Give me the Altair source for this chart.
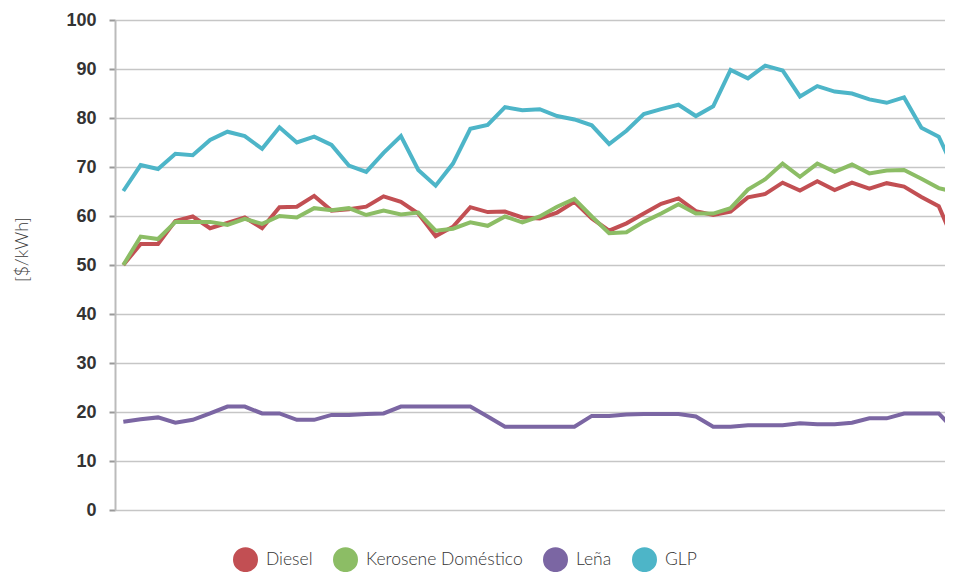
import altair as alt
import pandas as pd

series = ["Diesel", "Kerosene Doméstico", "Leña", "GLP"]
colors = ["#C24F53", "#8CBD65", "#7B66A3", "#4DB5C8"]

diesel = [50, 54.3, 54.3, 59, 59.9, 57.5, 58.6, 59.7, 57.5, 61.8,
          61.9, 64.1, 61.1, 61.4, 61.9, 64.0, 62.9, 60.5, 55.9, 57.8,
          61.8, 60.8, 60.9, 59.7, 59.5, 60.7, 62.9, 59.5, 57.0, 58.5,
          60.5, 62.5, 63.6, 61.0, 60.2, 60.9, 63.8, 64.5, 66.8, 65.2,
          67.1, 65.3, 66.8, 65.6, 66.7, 66.0, 63.9, 62.0, 53.8]
kerosene = [50, 55.8, 55.3, 58.8, 58.8, 58.8, 58.2, 59.4, 58.4, 60.0,
            59.7, 61.6, 61.2, 61.6, 60.2, 61.1, 60.3, 60.7, 57.0, 57.4,
            58.7, 58.0, 59.9, 58.7, 59.9, 61.9, 63.5, 59.9, 56.5, 56.7,
            58.8, 60.5, 62.4, 60.5, 60.5, 61.6, 65.4, 67.5, 70.7, 68.0,
            70.7, 69.0, 70.5, 68.7, 69.3, 69.4, 67.6, 65.7, 64.8]
lena = [18.0, 18.5, 18.9, 17.8, 18.4, 19.7, 21.1, 21.1, 19.7, 19.7,
        18.4, 18.4, 19.4, 19.4, 19.6, 19.7, 21.1, 21.1, 21.1, 21.1,
        21.1, 19.1, 17.0, 17.0, 17.0, 17.0, 17.0, 19.2, 19.2, 19.5,
        19.6, 19.6, 19.6, 19.1, 17.0, 17.0, 17.3, 17.3, 17.3, 17.7,
        17.5, 17.5, 17.8, 18.7, 18.7, 19.7, 19.7, 19.7, 16.0]
glp = [65.1, 70.4, 69.6, 72.7, 72.4, 75.5, 77.2, 76.3, 73.7, 78.1,
       75.0, 76.2, 74.5, 70.3, 69.0, 72.9, 76.3, 69.4, 66.2, 70.7,
       77.8, 78.6, 82.2, 81.6, 81.8, 80.4, 79.7, 78.5, 74.7, 77.4,
       80.8, 81.8, 82.7, 80.4, 82.4, 89.8, 88.1, 90.7, 89.7, 84.4,
       86.5, 85.4, 85.0, 83.8, 83.1, 84.2, 78.0, 76.2, 68.6]

rows = []
for name, vals in zip(series, [diesel, kerosene, lena, glp]):
    for i, v in enumerate(vals):
        rows.append({"periodo": i, "serie": name, "valor": v})
df = pd.DataFrame(rows)

chart = alt.Chart(df).mark_line(strokeWidth=4, clip=True).encode(
    x=alt.X("periodo:Q", axis=None,
            scale=alt.Scale(domain=[-0.48, 47.36], nice=False, zero=False)),
    y=alt.Y("valor:Q",
            scale=alt.Scale(domain=[0, 100], nice=False),
            axis=alt.Axis(values=list(range(0, 101, 10)), title="[$/kWh]",
                          titleX=-93, titleY=229, titleAngle=270,
                          titleAlign="center", titleBaseline="middle",
                          titleFont="Lato", titleFontSize=18, titleFontWeight=300,
                          titleColor="#3a3a3a",
                          labelFont="Liberation Sans", labelFontSize=18,
                          labelFontWeight="bold", labelColor="#333333",
                          labelPadding=13, tickSize=6, tickWidth=2,
                          tickColor="#999999", domainColor="#bbbbbb",
                          domainWidth=2, gridColor="#c6c6c6", gridWidth=1.6)),
    color=alt.Color("serie:N",
                    scale=alt.Scale(domain=series, range=colors),
                    sort=series,
                    legend=alt.Legend(title=None, orient="none", direction="horizontal",
                                      legendX=118, legendY=527,
                                      symbolType="circle", symbolSize=156,
                                      symbolStrokeWidth=12.5,
                                      labelFont="Lato", labelFontSize=17.5,
                                      labelFontWeight=300, labelColor="#333333",
                                      labelOffset=8, columnPadding=1,
                                      labelLimit=400)),
).properties(
    width=830, height=490,
    autosize=alt.AutoSizeParams(type="none"),
    padding={"left": 107, "top": 12, "right": 0, "bottom": 62},
).configure_view(stroke=None)

chart.save("out.html", embed_options={"renderer": "svg", "actions": False})
